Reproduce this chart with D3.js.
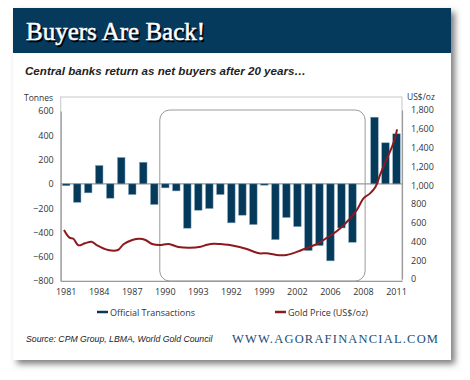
<!DOCTYPE html>
<html>
<head>
<meta charset="utf-8">
<script src="https://cdn.jsdelivr.net/npm/d3@7"></script>
<style>
  body { margin: 0; background: #fff; }
  svg { display: block; }
</style>
</head>
<body>
<svg id="chart" width="470" height="380"></svg>
<script>
// chart data
const years = [1981, 1982, 1983, 1984, 1985, 1986, 1987, 1988, 1989, 1990,
  1991, 1992, 1993, 1994, 1995, 1996, 1997, 1998, 1999, 2000,
  2001, 2002, 2003, 2004, 2005, 2006, 2007, 2008, 2009, 2010, 2011];
const officialTx = [-15, -152, -74, 151, -118, 217, -88, 178, -170, -33,
  -58, -365, -217, -203, -88, -321, -258, -335, -11, -459,
  -277, -352, -549, -508, -634, -363, -481, 0, 549, 338, 412];

// gold price line (decimal year, US$/oz)
const goldTime = [1980.8, 1981.3, 1981.65, 1982.1, 1982.7, 1983.3, 1983.8, 1984.8, 1985.7, 1986.2,
  1987.0, 1987.65, 1988.2, 1988.8, 1989.5, 1990.3, 1991.2, 1992.25, 1993.2, 1993.8,
  1994.4, 1995.0, 1996.2, 1997.4, 1998.5, 1999.2, 2000.1, 2001.0, 2002.0, 2002.9,
  2003.8, 2004.7, 2005.6, 2006.5, 2007.4, 2008.0, 2008.6, 2009.1, 2009.5, 2010.0,
  2010.6, 2010.9, 2011.05];
const goldPrice = [522, 440, 429, 359, 380, 397, 359, 309, 309, 370,
  415, 429, 415, 373, 362, 373, 341, 333, 344, 365,
  376, 372, 355, 319, 274, 274, 256, 256, 291, 333,
  373, 440, 511, 610, 735, 859, 912, 983, 1107, 1249,
  1409, 1516, 1594];

const xTickIdx = [0, 3, 6, 9, 12, 15, 18, 21, 24, 27, 30];
const xTickLabels = ["1981", "1984", "1987", "1990", "1993", "1992", "1999", "2002", "2006", "2008", "2011"];
const leftTicks = [600, 400, 200, 0, -200, -400, -600, -800];
const rightTicks = [0, 200, 400, 600, 800, 1000, 1200, 1400, 1600, 1800];

const svg = d3.select("#chart");
const tickFont = "'Open Sans', sans-serif";

// card with shadow
const defs = svg.append("defs");
const f = defs.append("filter").attr("id", "shadow")
  .attr("x", "-10%").attr("y", "-10%").attr("width", "125%").attr("height", "125%");
f.append("feDropShadow").attr("dx", 4).attr("dy", 4).attr("stdDeviation", 3)
  .attr("flood-color", "#000").attr("flood-opacity", 0.5);

svg.append("rect").attr("x", 13).attr("y", 8).attr("width", 438).attr("height", 352)
  .attr("fill", "#fff").attr("filter", "url(#shadow)");

// header band
svg.append("rect").attr("x", 13).attr("y", 8).attr("width", 438).attr("height", 45)
  .attr("fill", "#063a5c");
const titleText = "Buyers Are Back!";
svg.append("text").attr("x", 27.5).attr("y", 41.5).text(titleText)
  .attr("font-family", "'Liberation Serif', serif").attr("font-size", 25)
  .attr("fill", "#000").attr("stroke", "#000").attr("stroke-width", 0.5);
svg.append("text").attr("x", 26).attr("y", 40).text(titleText)
  .attr("font-family", "'Liberation Serif', serif").attr("font-size", 25)
  .attr("fill", "#fff").attr("stroke", "#fff").attr("stroke-width", 0.5);

svg.append("text").attr("x", 25).attr("y", 75)
  .text("Central banks return as net buyers after 20 years…")
  .attr("font-family", "'Liberation Sans', sans-serif").attr("font-size", 11.6)
  .attr("font-weight", "bold").attr("font-style", "italic").attr("fill", "#222");

// plot area
const plotL = 60.7, plotR = 402, plotT = 97, plotB = 281;

const x = d3.scaleBand().domain(years).range([plotL, plotR]).paddingInner(0.32).paddingOuter(0.16);
const yL = d3.scaleLinear().domain([-800, 600]).range([281, 111]);
const yR = d3.scaleLinear().domain([0, 1800]).range([279, 110]);
const xLine = d3.scaleLinear().domain([years[0], years[years.length - 1]])
  .range([x(years[0]) + x.bandwidth() / 2, x(years[years.length - 1]) + x.bandwidth() / 2]);

// frame
svg.append("rect").attr("x", plotL).attr("y", plotT).attr("width", plotR - plotL).attr("height", plotB - plotT)
  .attr("fill", "none").attr("stroke", "#c8c8c8").attr("stroke-width", 1);

// rounded annotation box around the selling years
const step = x.step();
svg.append("rect")
  .attr("x", plotL + 9 * step).attr("y", yL(600) - 1)
  .attr("width", xLine(2008.15) - (plotL + 9 * step)).attr("height", plotB - yL(600) + 1)
  .attr("rx", 10).attr("ry", 10)
  .attr("fill", "none").attr("stroke", "#9a9a9a").attr("stroke-width", 1);

// zero line
svg.append("line").attr("x1", plotL).attr("x2", plotR).attr("y1", yL(0)).attr("y2", yL(0))
  .attr("stroke", "#9a9a9a").attr("stroke-width", 1.3);

// bars
svg.append("g").selectAll("rect").data(officialTx).join("rect")
  .attr("x", (d, i) => x(years[i]))
  .attr("width", x.bandwidth())
  .attr("y", d => yL(Math.max(0, d)))
  .attr("height", d => Math.abs(yL(d) - yL(0)))
  .attr("fill", "#053a5b")
  .attr("stroke", d => d === 0 ? "none" : "#7f9fb8").attr("stroke-width", 0.5);

// gold price line
const goldPts = goldTime.map((t, i) => [t, goldPrice[i]]);
svg.append("path").datum(goldPts)
  .attr("fill", "none").attr("stroke", "#8c1a1d").attr("stroke-width", 2)
  .attr("d", d3.line().x(d => xLine(d[0])).y(d => yR(d[1])).curve(d3.curveCatmullRom));

// axes
const axL = svg.append("g").attr("transform", `translate(${plotL},0)`)
  .call(d3.axisLeft(yL).tickValues(leftTicks).tickSize(0).tickPadding(7));
const axR = svg.append("g").attr("transform", `translate(${plotR},0)`)
  .call(d3.axisRight(yR).tickValues(rightTicks).tickSize(0).tickPadding(9).tickFormat(d3.format(",")));
const axB = svg.append("g").attr("transform", `translate(0,${plotB})`)
  .call(d3.axisBottom(x).tickValues(xTickIdx.map(i => years[i])).tickSize(0).tickPadding(8)
    .tickFormat((d, i) => xTickLabels[i]));

[axL, axR, axB].forEach(g => {
  g.select(".domain").attr("stroke", "#9a9a9a").attr("stroke-width", 1.2);
  g.selectAll("text").attr("font-family", tickFont).attr("font-size", 9).attr("fill", "#333");
});

svg.append("text").attr("x", 53).attr("y", 101).attr("text-anchor", "end").text("Tonnes")
  .attr("font-family", tickFont).attr("font-size", 8.5).attr("fill", "#333");
svg.append("text").attr("x", 407).attr("y", 100).text("US$/oz")
  .attr("font-family", tickFont).attr("font-size", 8.5).attr("fill", "#333");

// legend
const legend = [
  { name: "Official Transactions", color: "#053a5b", x: 97 },
  { name: "Gold Price (US$/oz)", color: "#8c1a1d", x: 275 }
];
const lg = svg.append("g").selectAll("g").data(legend).join("g")
  .attr("transform", d => `translate(${d.x},312)`);
lg.append("line").attr("x1", 0).attr("x2", 11).attr("stroke", d => d.color).attr("stroke-width", 2.5);
lg.append("text").attr("x", 13).attr("y", 3.5).text(d => d.name)
  .attr("font-family", tickFont).attr("font-size", 9).attr("fill", "#333");

// footer
svg.append("text").attr("x", 26).attr("y", 342)
  .text("Source:  CPM Group, LBMA, World Gold Council")
  .attr("font-family", "'Liberation Sans', sans-serif").attr("font-size", 8.7)
  .attr("font-style", "italic").attr("fill", "#222");
svg.append("text").attr("x", 232).attr("y", 343)
  .text("WWW.AGORAFINANCIAL.COM")
  .attr("font-family", "'Liberation Serif', serif").attr("font-size", 12.5)
  .attr("letter-spacing", 1.2).attr("fill", "#1d4e73");
</script>
</body>
</html>
